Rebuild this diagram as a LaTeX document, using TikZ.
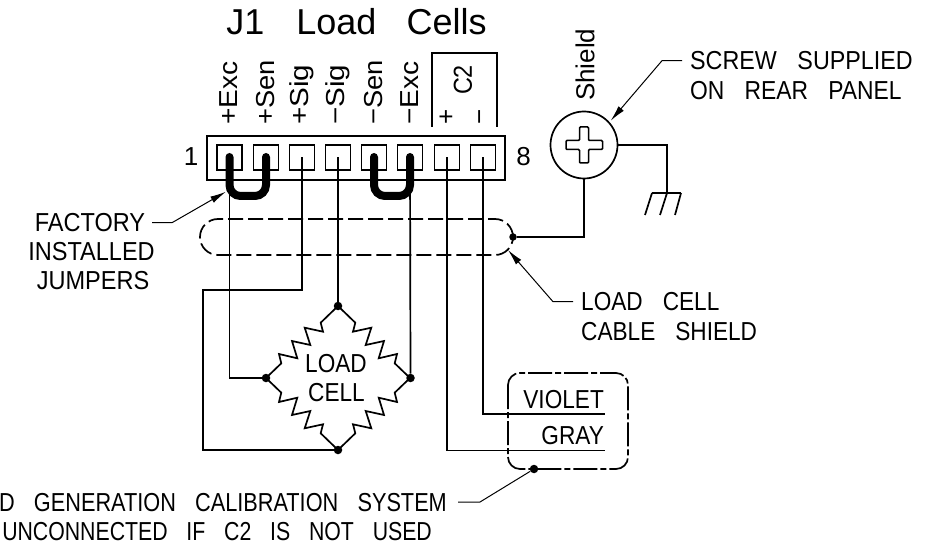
\documentclass[tikz,border=0pt]{standalone}
\usepackage{fontspec}
\setmainfont{Liberation Sans}
\usetikzlibrary{arrows.meta}
\newcommand{\wgap}{\hspace{23pt}}
\tikzset{x=1pt,y=-1pt,
 wire/.style={line width=1.7pt,black},
 thin leader/.style={line width=1pt,black,-{Latex[length=16pt,width=7pt]}},
 plain leader/.style={line width=1pt,black},
 jumper/.style={line width=8pt,line cap=round,rounded corners=11pt},
 dot/.style={circle,fill=black,inner sep=0pt,minimum size=8.5pt},
 pin/.style={draw,line width=1.7pt,minimum size=25pt,inner sep=0pt},
 lbl/.style={inner sep=0pt,font=\fontsize{26}{26}\selectfont,xscale=.87},
 rlbl/.style={rotate=90,inner sep=0pt,font=\fontsize{26}{26}\selectfont,anchor=west}}
\begin{document}
\begin{tikzpicture}
\useasboundingbox (0,0) rectangle (948,548);
% connector
\node[draw,line width=1.7pt,minimum width=298pt,minimum height=44pt,inner sep=0pt] (block) at (356,158) {};
\foreach \n/\x in {1/229.5,2/266,3/302,4/338,5/374,6/410,7/447,8/483}{
 \node[pin] (p\n) at (\x,157.5) {};
 \coordinate (c\n) at (\x,157.5);
}
% bridge dots
\node[dot] (top) at (338,306) {};
\node[dot] (left) at (266,378) {};
\node[dot] (right) at (410.5,378) {};
\node[dot] (bot) at (338,450) {};
% wires
\draw[wire] (c1) |- (left);
\draw[wire] (c3) |- (203,290) |- (bot);
\draw[wire] (c4) -- (top);
\draw[wire] (c6) -- (right);
\coordinate (vio) at (605,414);
\coordinate (gra) at (605,450.5);
\draw[wire] (c7) |- (gra);
\draw[wire] (c8) |- (vio);
% jumpers
\draw[jumper] (229.5,157) -- (229.5,196) -- (266,196) -- (266,157);
\draw[jumper] (374,157) -- (374,196) -- (410,196) -- (410,157);
% bridge
\foreach \sx/\sy in {1/1,-1/1,1/-1,-1/-1}{
 \draw[wire,line join=miter]
  (338,306+72-\sy*72)
  -- ++(\sx*17.3,\sy*16.7) -- ++(\sx*-2.3,\sy*9) -- ++(\sx*18.3,\sy*-4)
  -- ++(\sx*-5.6,\sy*17.3) -- ++(\sx*18.3,\sy*-4) -- ++(\sx*-5.3,\sy*17.3)
  -- ++(\sx*18.3,\sy*-4.3) -- ++(\sx*-2.3,\sy*9.3) -- ++(\sx*15.3,\sy*14.7);
}
% labels
\node[inner sep=0pt,font=\fontsize{36}{36}\selectfont] (title) at (356.5,22) {J1\hspace{32pt}Load\hspace{30pt}Cells};
\foreach \x/\t/\s in {229/+Exc/1.08,266/+Sen/1.05,302/+Sig/1.14,338/−Sig/1.14,374/−Sen/1.05,410/−Exc/1.08}{
 \node[rlbl,xscale=\s] at (\x,125) {\t};
}
\node[rlbl] at (447,125) {+};
\node[rlbl] at (483,125) {−};
\node[rlbl,anchor=center,xscale=.9] at (463,80) {C2};
\draw[line width=1.7pt] (432,127) -- (432,53) -- (497,53) -- (497,127);
\node[inner sep=0pt,font=\fontsize{26}{26}\selectfont] (n1) at (191,157) {1};
\node[inner sep=0pt,font=\fontsize{26}{26}\selectfont] (n8) at (523.5,157) {8};
% screw
\node[draw,circle,line width=1.7pt,minimum size=67pt,inner sep=0pt] (screw) at (584,145) {};
\draw[line width=1.5pt,rounded corners=1pt] (579.5,127)--(588.5,127)--(588.5,140.5)--(602.5,140.5)--(602.5,149.5)--(588.5,149.5)--(588.5,163)--(579.5,163)--(579.5,149.5)--(566,149.5)--(566,140.5)--(579.5,140.5)--cycle;
\node[rlbl] at (585,101) {Shield};
% shield wire & ground
\node[dot,minimum size=7.5pt] (sd) at (513,237) {};
\draw[wire] (screw.south) |- (sd);
\coordinate (gnd) at (667,193);
\draw[wire] (screw.east) -| (gnd);
\draw[wire] (652,193) -- (681,193);
\draw[wire] (652,193) -- (645,215);
\draw[wire] (667,193) -- (660,215);
\draw[wire] (681,193) -- (675,215);
% cable shield
\draw[wire,dash pattern=on 15pt off 5pt] (513,237) arc[start angle=0,end angle=-90,radius=18] -- (218,219) arc[start angle=270,end angle=90,radius=18] -- (495,255) arc[start angle=90,end angle=0,radius=18];
% text callouts
\coordinate (sc1) at (682,60.7); \coordinate (sc2) at (662,60.7); \coordinate (sc3) at (610.7,120.7);
\draw[thin leader] (sc1) -- (sc2) -- (sc3);
\node[lbl,anchor=west,xscale=1.03] at (690,61) {SCREW\wgap SUPPLIED};
\node[lbl,anchor=west,xscale=1.01] at (690,91) {ON\wgap REAR\wgap PANEL};
\coordinate (f1) at (152,222.7); \coordinate (f2) at (172,222.7); \coordinate (f3) at (226,191.7);
\draw[thin leader] (f1) -- (f2) -- (f3);
\node[lbl,xscale=1.04] at (90,222.5) {FACTORY};
\node[lbl,xscale=1.04] at (91.5,252) {INSTALLED};
\node[lbl,xscale=1.04] at (93,281) {JUMPERS};
\coordinate (l1) at (573,301.7); \coordinate (l2) at (553,301.7); \coordinate (l3) at (508,250);
\draw[thin leader] (l1) -- (l2) -- (l3);
\node[lbl,anchor=west] at (581,302) {LOAD\wgap CELL};
\node[lbl,anchor=west] at (581,332) {CABLE\wgap SHIELD};
\node[lbl] at (336,363.5) {LOAD};
\node[lbl] at (336.5,393) {CELL};
% cal box
\draw[wire,rounded corners=12pt,dash pattern=on 24pt off 3pt on 6pt off 3pt] (508,373) rectangle (628,469);
\node[lbl,anchor=east] at (604,400) {VIOLET};
\node[lbl,anchor=east] at (604,436) {GRAY};
\node[dot] (cd) at (534,469) {};
\coordinate (b1) at (458,502); \coordinate (b2) at (480,502);
\draw[plain leader] (b1) -- (b2) -- (cd);
\node[lbl,anchor=east,xscale=.96] at (447,503) {D\wgap GENERATION\wgap CALIBRATION\wgap SYSTEM};
\node[lbl,anchor=east,xscale=.94] at (432,532) {UNCONNECTED\wgap IF\wgap C2\wgap IS\wgap NOT\wgap USED};
\end{tikzpicture}
\end{document}
